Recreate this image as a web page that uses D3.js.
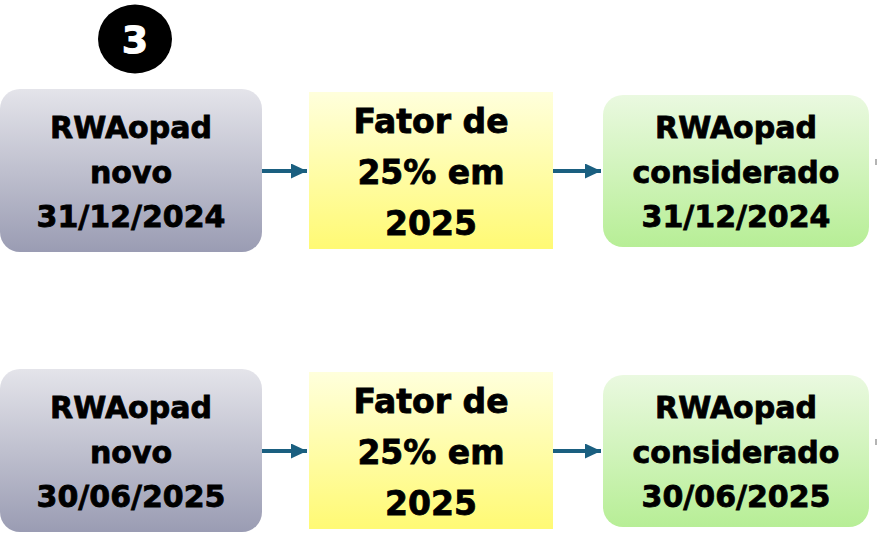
<!DOCTYPE html>
<html>
<head>
<meta charset="utf-8">
<script src="https://cdn.jsdelivr.net/npm/d3@7"></script>
<style>
  html, body { margin: 0; padding: 0; background: #fff; }
  svg { display: block; }
</style>
</head>
<body>
<div id="chart"></div>
<script>
// DATA ///////////////////////////////////////////////////////////////////////
const badgeLabel = "3";
const rowDates = ["31/12/2024", "30/06/2025"];
const sourceLines = ["RWAopad", "novo"];
const factorLines = ["Fator de", "25% em", "2025"];
const resultLines = ["RWAopad", "considerado"];

// LAYOUT /////////////////////////////////////////////////////////////////////
const w = 878;
const h = 533;
const rowStep = 280;
const font = "'DejaVu Sans', sans-serif";

// each stage: box geometry + gradient + text metrics
const stages = [
  { key: "gray",   x: 0,   y: 89, w: 262, h: 163, rx: 20, top: "#e4e4ea", bottom: "#9a9cb3", size: 30, first: 138, step: 44.5 },
  { key: "yellow", x: 309, y: 92, w: 244, h: 157, rx: 0,  top: "#ffffdc", bottom: "#fffa74", size: 33, first: 133, step: 51 },
  { key: "green",  x: 603, y: 95, w: 266, h: 152, rx: 20, top: "#eaf9e0", bottom: "#b7ee96", size: 30, first: 138, step: 44.5 }
];

const arrowY = 171;
const arrowColor = "#1a5f80";

const svg = d3.select("#chart")
  .append("svg")
  .attr("width", w)
  .attr("height", h);

const defs = svg.append("defs");

stages.forEach(s => {
  const g = defs.append("linearGradient")
    .attr("id", "grad-" + s.key)
    .attr("x1", 0).attr("y1", 0)
    .attr("x2", 0).attr("y2", 1);
  g.append("stop").attr("offset", "0%").attr("stop-color", s.top);
  g.append("stop").attr("offset", "100%").attr("stop-color", s.bottom);
});

defs.append("marker")
  .attr("id", "head")
  .attr("viewBox", "0 0 16 15")
  .attr("refX", 16)
  .attr("refY", 7.5)
  .attr("markerWidth", 16)
  .attr("markerHeight", 15)
  .attr("markerUnits", "userSpaceOnUse")
  .attr("orient", "auto")
  .append("path")
  .attr("d", "M0,0 L16,7.5 L0,15 Z")
  .attr("fill", arrowColor);

// badge
svg.append("ellipse")
  .attr("cx", 135)
  .attr("cy", 39)
  .attr("rx", 37)
  .attr("ry", 34.5)
  .attr("fill", "#000");

svg.append("text")
  .attr("x", 135)
  .attr("y", 53)
  .attr("text-anchor", "middle")
  .attr("font-family", font)
  .attr("font-weight", "bold")
  .attr("font-size", 38)
  .attr("fill", "#fff")
  .attr("stroke", "#fff")
  .attr("stroke-width", 1)
  .text(badgeLabel);

// rows
const rows = svg.selectAll(".row")
  .data(rowDates)
  .enter()
  .append("g")
  .attr("class", "row")
  .attr("transform", (d, i) => "translate(0," + (i * rowStep) + ")");

rows.each(function(date) {
  const row = d3.select(this);
  const texts = [
    sourceLines.concat([date]),
    factorLines,
    resultLines.concat([date])
  ];

  stages.forEach((s, i) => {
    row.append("rect")
      .attr("x", s.x)
      .attr("y", s.y)
      .attr("width", s.w)
      .attr("height", s.h)
      .attr("rx", s.rx)
      .attr("ry", s.rx)
      .attr("fill", "url(#grad-" + s.key + ")");

    row.selectAll(".lbl-" + s.key)
      .data(texts[i])
      .enter()
      .append("text")
      .attr("class", "lbl-" + s.key)
      .attr("x", s.x + s.w / 2)
      .attr("y", (d, j) => s.first + j * s.step)
      .attr("text-anchor", "middle")
      .attr("font-family", font)
      .attr("font-weight", "bold")
      .attr("font-size", s.size)
      .attr("fill", "#000")
      .attr("stroke", "#000")
      .attr("stroke-width", 0.8)
      .text(d => d);
  });

  // arrows between boxes
  for (let i = 0; i < stages.length - 1; i++) {
    const a = stages[i], b = stages[i + 1];
    row.append("line")
      .attr("x1", a.x + a.w)
      .attr("y1", arrowY)
      .attr("x2", b.x - 2)
      .attr("y2", arrowY)
      .attr("stroke", arrowColor)
      .attr("stroke-width", 4)
      .attr("marker-end", "url(#head)");
  }

  // stub of the next (cut off) connector at the right edge
  row.append("rect")
    .attr("x", 875)
    .attr("y", 159)
    .attr("width", 2)
    .attr("height", 6)
    .attr("fill", "#b4b4b4");
});
</script>
</body>
</html>
